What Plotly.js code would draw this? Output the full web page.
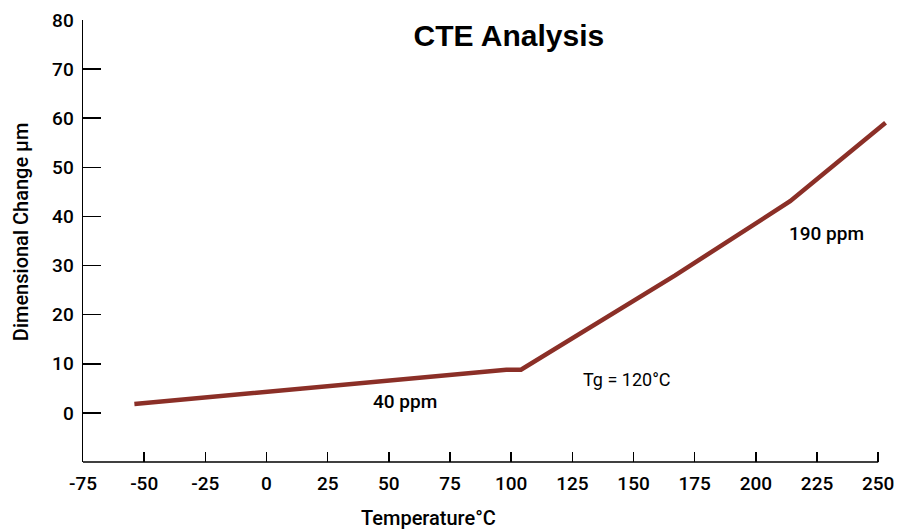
<!DOCTYPE html>
<html>
<head>
<meta charset="utf-8">
<script src="https://cdn.plot.ly/plotly-3.0.1.min.js"></script>
<style>html,body{margin:0;padding:0;background:#fff;}#chart{width:906px;height:529px;}</style>
</head>
<body>
<div id="chart"></div>
<script>
// Data
const temperature = [-54, 98, 104, 167, 214, 253];
const dimChange = [1.8, 8.8, 8.8, 28, 43.1, 59.1];
const xTicks = [-75, -50, -25, 0, 25, 50, 75, 100, 125, 150, 175, 200, 225, 250];
const yTicks = [0, 10, 20, 30, 40, 50, 60, 70, 80];
const labelTexts = ["40 ppm", "190 ppm", "Tg = 120\u00B0C"];
const labelX = [56.6, 229, 147.5];
const labelY = [2.3, 36.5, 6.9];

const FONT = "Roboto, 'Liberation Sans', Arial, sans-serif";
const TFONT = "'Liberation Sans', Arial, Helvetica, sans-serif";

const trace = {
  x: temperature,
  y: dimChange,
  type: 'scatter',
  mode: 'lines',
  line: {color: '#8B2F27', width: 4.5},
  hoverinfo: 'skip'
};

const med = {family: FONT, size: 19, weight: 500, color: '#000'};

const layout = {
  width: 906,
  height: 529,
  margin: {l: 83, r: 18, t: 20, b: 67},
  paper_bgcolor: '#ffffff',
  plot_bgcolor: '#ffffff',
  showlegend: false,
  font: {family: FONT, color: '#000'},
  title: {
    text: 'CTE Analysis',
    font: {family: TFONT, size: 30, weight: 700, color: '#000'},
    xref: 'paper', x: 0.529, xanchor: 'center',
    yref: 'container', y: 1 - 35 / 529, yanchor: 'middle'
  },
  xaxis: {
    range: [-75, 254],
    tickmode: 'array',
    tickvals: xTicks,
    ticktext: xTicks.map(String),
    ticks: 'inside',
    ticklen: 10,
    tickwidth: 1.5,
    tickcolor: '#000',
    showline: false,
    showgrid: false,
    zeroline: false,
    tickfont: med,
    ticklabelstandoff: 8,
    fixedrange: true
  },
  yaxis: {
    range: [-10, 80],
    tickmode: 'array',
    tickvals: yTicks,
    ticktext: yTicks.map(String),
    ticks: 'inside',
    ticklen: 18,
    tickwidth: 1.5,
    tickcolor: '#000',
    showline: true,
    linecolor: '#000',
    linewidth: 1.5,
    showgrid: false,
    zeroline: false,
    tickfont: med,
    ticklabelstandoff: 4,
    fixedrange: true
  },
  shapes: [
    {type: 'line', xref: 'x', yref: 'paper', x0: -75, x1: xTicks[xTicks.length - 1], y0: 0, y1: 0,
     line: {color: '#000', width: 1.5}}
  ],
  annotations: [
    {text: labelTexts[0], x: labelX[0], y: labelY[0], xref: 'x', yref: 'y', showarrow: false, font: med},
    {text: labelTexts[1], x: labelX[1], y: labelY[1], xref: 'x', yref: 'y', showarrow: false, font: med},
    {text: labelTexts[2], x: labelX[2], y: labelY[2], xref: 'x', yref: 'y', showarrow: false,
     font: {family: FONT, size: 18, weight: 400, color: '#000'}},
    {text: 'Temperature\u00B0C', xref: 'paper', yref: 'paper', x: 0.4296, y: -0.127,
     xanchor: 'center', yanchor: 'middle', showarrow: false,
     font: {family: FONT, size: 20, weight: 500, color: '#000'}},
    {text: 'Dimensional Change \u00B5m', xref: 'paper', yref: 'paper', x: -0.077, y: 0.52,
     xanchor: 'center', yanchor: 'middle', textangle: -90, showarrow: false,
     font: {family: FONT, size: 20, weight: 500, color: '#000'}}
  ]
};

Plotly.newPlot('chart', [trace], layout, {displayModeBar: false, staticPlot: true});
</script>
</body>
</html>
